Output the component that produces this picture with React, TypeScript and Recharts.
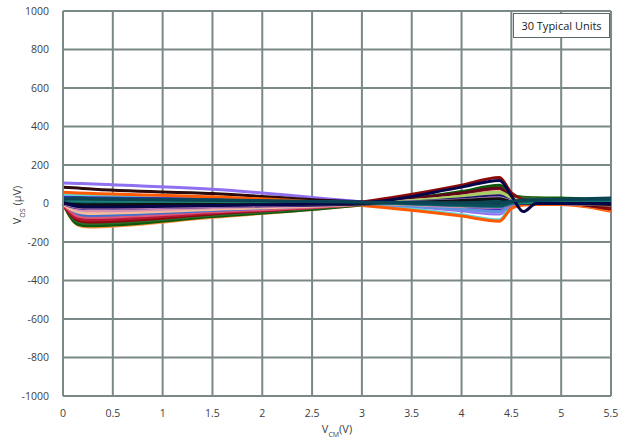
import React from 'react'
import { LineChart, Line, XAxis, YAxis, CartesianGrid } from 'recharts'

// V_CM sample points (V)
const vcm = [0, 0.15, 0.25, 1.5, 3, 4, 4.38, 4.5, 4.62, 4.75, 5, 5.5]

const xTicks = [0, 0.5, 1, 1.5, 2, 2.5, 3, 3.5, 4, 4.5, 5, 5.5]
const yTicks = [-1000, -800, -600, -400, -200, 0, 200, 400, 600, 800, 1000]

// offset voltage per unit (uV)
const unit01 = [106, 104, 102, 74, 8, -38, -55, -12, -3, 0, 0, 5]
const unit02 = [40, 38, 37, 26, 4, -30, -45, -10, -2, 0, 2, 0]
const unit03 = [28, 26, 25, 17, 3, -25, -35, -10, 0, 2, 2, 0]
const unit04 = [48, 46, 44, 30, -4, -58, -85, -15, 0, 0, 2, 5]
const unit05 = [32, 31, 30, 23, 9, -20, -30, -8, 0, 2, 4, 10]
const unit06 = [12, 10, 9, 6, -2, -30, -42, -12, 0, 0, 0, 0]
const unit07 = [85, 80, 76, 52, 6, -5, -10, 8, 4, 2, 0, -10]
const unit08 = [8, 5, 4, 3, 0, -15, -20, -5, 0, 0, 0, -5]
const unit09 = [58, 55, 53, 35, -10, -65, -92, -25, -8, -5, -5, -40]
const unit10 = [20, 18, 17, 13, 5, -12, -18, -4, 2, 2, 2, 5]
const unit11 = [0, -112, -122, -72, -8, 45, 60, 30, 10, 5, 2, -35]
const unit12 = [0, -108, -116, -68, -6, 62, 95, 45, 32, 30, 28, 15]
const unit13 = [0, -95, -105, -61, -4, 50, 82, 45, 30, 25, 20, 10]
const unit14 = [-5, -88, -96, -54, 8, 95, 135, 55, 20, 10, 5, -30]
const unit15 = [-8, -78, -86, -49, -2, 52, 78, 30, 12, 5, 2, -10]
const unit16 = [2, -60, -70, -40, 2, 55, 80, 30, 10, 5, 0, -15]
const unit17 = [0, -65, -72, -43, -5, 30, 45, 15, 5, 0, 0, -5]
const unit18 = [5, -52, -62, -36, 0, 22, 32, 10, 0, 0, 0, 0]
const unit19 = [-5, -45, -52, -31, -3, 32, 48, 20, 5, 2, 0, -8]
const unit20 = [0, -32, -38, -22, 0, 38, 60, 25, 10, 5, 0, -5]
const unit21 = [10, 6, 3, 1, 2, 38, 58, 30, 10, 5, 5, 5]
const unit22 = [0, -22, -25, -15, -3, 25, 40, 12, 0, 0, 0, 0]
const unit23 = [0, -20, -24, -14, 1, 18, 30, 12, 5, 0, 0, 0]
const unit24 = [15, 12, 10, 7, 3, 8, 10, 5, 2, 0, 0, 0]
const unit25 = [10, 5, 3, 2, 5, 10, 15, 10, 12, 10, 8, 12]
const unit26 = [0, -5, -6, -4, -1, 15, 25, 8, 2, 0, 0, -5]
const unit27 = [18, 15, 14, 10, 4, -10, -15, 0, 5, 5, 5, 5]
const unit28 = [22, 28, 26, 19, 7, -8, -12, 5, 12, 15, 18, 20]
const unit29 = [5, -15, -18, -10, 4, 85, 120, 40, -42, 0, 0, 0]
const unit30 = [25, 24, 23, 17, 6, 4, 5, 12, 18, 20, 22, 28]

const units = [
  unit01, unit02, unit03, unit04, unit05, unit06, unit07, unit08, unit09, unit10,
  unit11, unit12, unit13, unit14, unit15, unit16, unit17, unit18, unit19, unit20,
  unit21, unit22, unit23, unit24, unit25, unit26, unit27, unit28, unit29, unit30,
]

const COLORS = [
  '#8f70f0', '#b0a0f0', '#30a8b0', '#60d8d8', '#4030c0', '#6090e0', '#2a0a0a', '#e8a0a0', '#ff5a00', '#7050c8',
  '#ff9040', '#0a5a0a', '#2e6a2e', '#8b0a0a', '#b81838', '#600818', '#e05878', '#3f70d0', '#f5bc9c', '#d890b0',
  '#a8d060', '#101868', '#c080c0', '#58b8e8', '#0a6878', '#101010', '#1e8070', '#08505c', '#05054a', '#0b4455',
]

const data = vcm.map((x, i) => {
  const row: Record<string, number> = { x }
  units.forEach((u, k) => { row['u' + k] = u[i] })
  return row
})

const font = '"Open Sans", sans-serif'
const tickStyle = { fontFamily: font, fontSize: 10.5, fill: '#404040' }

export default function App() {
  return (
    <div style={{ position: 'absolute', left: 0, top: 0, width: 633, height: 442, background: '#fff' }}>
      <LineChart width={633} height={442} data={data} margin={{ top: 11, right: 22, bottom: 26, left: 13 }}>
        <CartesianGrid stroke="#7a8888" strokeWidth={2} />
        <XAxis
          dataKey="x"
          type="number"
          domain={[0, 5.5]}
          ticks={xTicks}
          tickLine={false}
          axisLine={{ stroke: '#7a8888', strokeWidth: 2 }}
          tick={tickStyle}
          tickMargin={8}
          height={20}
          interval={0}
        />
        <YAxis
          type="number"
          domain={[-1000, 1000]}
          ticks={yTicks}
          tickLine={false}
          axisLine={{ stroke: '#7a8888', strokeWidth: 2 }}
          tick={tickStyle}
          tickMargin={8}
          width={50}
          interval={0}
        />
        {units.map((_, k) => (
          <Line
            key={k}
            dataKey={'u' + k}
            type="monotone"
            stroke={COLORS[k]}
            strokeWidth={3}
            dot={false}
            isAnimationActive={false}
          />
        ))}
      </LineChart>
      <div style={{
        position: 'absolute', left: 513, top: 13, width: 97, height: 25, boxSizing: 'border-box',
        border: '1.5px solid #5a6868', background: '#fff', fontFamily: font, fontSize: 11, color: '#202020',
        display: 'flex', alignItems: 'center', justifyContent: 'center',
      }}>
        30 Typical Units
      </div>
      <div style={{
        position: 'absolute', left: 18, top: 205, transform: 'translate(-50%, -50%) rotate(-90deg)',
        fontFamily: font, fontSize: 11, color: '#404040', whiteSpace: 'nowrap',
      }}>
        V<sub style={{ fontSize: 7 }}>OS</sub> (µV)
      </div>
      <div style={{
        position: 'absolute', left: 337, top: 430, transform: 'translate(-50%, -50%)',
        fontFamily: font, fontSize: 11, color: '#404040', whiteSpace: 'nowrap',
      }}>
        V<sub style={{ fontSize: 7 }}>CM</sub>(V)
      </div>
    </div>
  )
}
